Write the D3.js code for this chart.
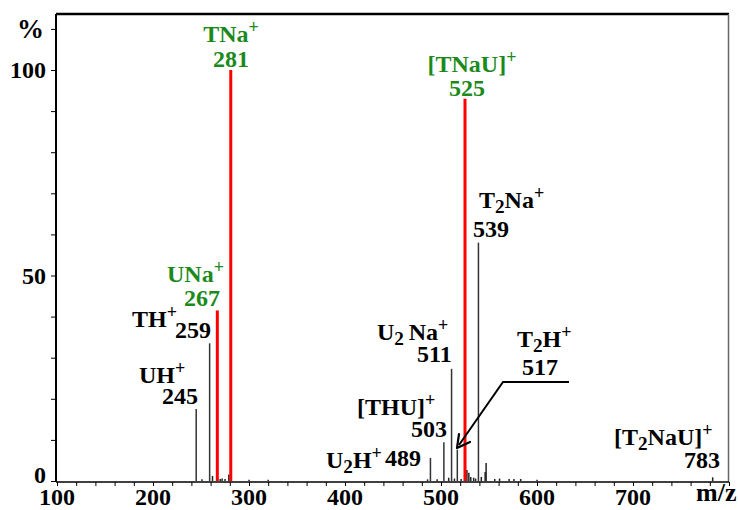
<!DOCTYPE html>
<html><head><meta charset="utf-8">
<script src="https://cdn.jsdelivr.net/npm/d3@7"></script>
<style>html,body{margin:0;padding:0;background:#fff;}svg{display:block;}</style>
</head><body>
<svg id="c" width="738" height="510"></svg>
<script>
// ---- data ----
const mainMz        = [245, 259, 267, 281, 489, 503, 511, 517, 525, 539];
const mainIntensity = [17.5, 33.5, 41.5, 100, 5.6, 9.4, 27.3, 7.6, 93, 58];
const highlighted   = [false, false, true, true, false, false, false, false, true, false];
const minorMz        = [251, 262, 270, 272, 275, 279, 300, 320, 486, 496, 508, 514, 521, 527, 529, 531, 534, 536, 542, 546, 547, 556, 561, 571, 576, 583, 600, 783];
const minorIntensity = [0.4, 1.2, 0.5, 0.6, 0.5, 1.6, 0.3, 0.3, 0.4, 0.4, 0.8, 0.6, 0.5, 2.7, 2.0, 1.0, 0.8, 0.6, 1.0, 2.2, 4.4, 0.5, 0.6, 0.5, 0.5, 0.5, 0.3, 0.9];
const yMajorTicks = [0, 50, 100];
const yMinorTicks = [10, 20, 30, 40, 60, 70, 80, 90];
const xTickLabels = [100, 200, 300, 400, 500, 600, 700];

const svg = d3.select("#c");
const x = d3.scaleLinear().domain([100, 800]).range([57, 729]);
const y = d3.scaleLinear().domain([0, 100]).range([481, 70]);
const serif = "'Liberation Serif','Times New Roman',serif";
const green = "#1b8a1b";
const FS = 24;

// frame
svg.append("line").attr("x1",56).attr("x2",729).attr("y1",14).attr("y2",14).attr("stroke","#000").attr("stroke-width",2.5);
svg.append("line").attr("x1",728.5).attr("x2",728.5).attr("y1",14).attr("y2",482).attr("stroke","#666").attr("stroke-width",1.5);

// minor peaks
svg.append("g").selectAll("line").data(minorMz).join("line")
  .attr("x1", d=>x(d)).attr("x2", d=>x(d))
  .attr("y1", y(0)).attr("y2", (d,i)=>y(minorIntensity[i]))
  .attr("stroke","#222").attr("stroke-width",1.5);

// main peaks
svg.append("g").selectAll("line").data(mainMz).join("line")
  .attr("x1", d=>x(d)).attr("x2", d=>x(d))
  .attr("y1", y(0)).attr("y2", (d,i)=>y(mainIntensity[i]))
  .attr("stroke", (d,i)=>highlighted[i] ? "#ff0000" : "#333")
  .attr("stroke-width", (d,i)=>highlighted[i] ? 3 : 1.5);

// axes
const xAxis = d3.axisBottom(x).tickValues(d3.range(100, 801, 20)).tickSize(4).tickFormat("");
const gx = svg.append("g").attr("transform","translate(0,482)").call(xAxis);
gx.select(".domain").attr("stroke","#000").attr("stroke-width",1.5).attr("d","M56,0H729");
gx.selectAll(".tick line").attr("stroke","#000").attr("stroke-width",1);
svg.append("g").selectAll("text").data(xTickLabels).join("text")
  .attr("x", d=>x(d)).attr("y", 505).attr("text-anchor","middle")
  .attr("font-family",serif).attr("font-weight","bold").attr("font-size",FS).text(d=>d);

const yAxis = d3.axisLeft(y).tickValues(yMajorTicks.concat(yMinorTicks).concat([110])).tickSize(5).tickFormat("");
const gy = svg.append("g").attr("transform","translate(56,0)").call(yAxis);
gy.select(".domain").attr("stroke","#000").attr("stroke-width",2).attr("d","M0,14V482");
gy.selectAll(".tick line").attr("stroke","#000").attr("stroke-width",1);
svg.append("g").selectAll("text").data(yMajorTicks).join("text")
  .attr("x", 46).attr("y", d=>d===0 ? y(d)-6 : y(d)).attr("dy","0.35em").attr("text-anchor","end")
  .attr("font-family",serif).attr("font-weight","bold").attr("font-size",FS).text(d=>d);
svg.append("text").attr("x",17).attr("y",38).attr("font-family",serif).attr("font-weight","bold").attr("font-size",27).text("%");
svg.append("text").attr("x",696).attr("y",501).attr("font-family",serif).attr("font-weight","bold").attr("font-size",26).text("m/z");

// labels
function label(xp, yp, parts, color, anchor) {
  const t = svg.append("text").attr("x",xp).attr("y",yp)
    .attr("font-family",serif).attr("font-weight","bold").attr("font-size",FS)
    .attr("fill",color||"#000").attr("text-anchor",anchor||"start");
  parts.forEach(p=>{
    const s = t.append("tspan").text(p[0]);
    if (p[1]==="sub") s.attr("font-size",FS*0.8).attr("dy",5);
    else if (p[1]==="sup") s.attr("font-size",FS*0.75).attr("dy",-9);
    else if (p[1]==="back") s.attr("dy",-5);
  });
  return t;
}
// green
label(231, 42, [["TNa"],["+","sup"]], green, "middle");
label(231, 67, [["281"]], green, "middle");
label(472, 72, [["[TNaU]"],["+","sup"]], green, "middle");
label(467, 96, [["525"]], green, "middle");
label(167, 282, [["UNa"],["+","sup"]], green);
label(184, 306, [["267"]], green);
// black
label(479, 208, [["T"],["2","sub"],["Na","back"],["+","sup"]]);
label(473, 237, [["539"]]);
label(132, 327, [["TH"],["+","sup"]]);
label(175, 338, [["259"]]);
label(139, 383, [["UH"],["+","sup"]]);
label(162, 404, [["245"]]);
label(377, 340, [["U"],["2","sub"],["\u2009Na","back"],["+","sup"]]);
label(417, 362, [["511"]]);
label(517, 347, [["T"],["2","sub"],["H","back"],["+","sup"]]);
label(522, 375, [["517"]]);
label(357, 415, [["[THU]"],["+","sup"]]);
label(411, 437, [["503"]]);
label(326, 468, [["U"],["2","sub"],["H","back"],["+","sup"]]);
label(385, 466, [["489"]]);
label(614, 445, [["[T"],["2","sub"],["NaU]","back"],["+","sup"]]);
label(684, 468, [["783"]]);

// leader line for 517
svg.append("path").attr("d","M569,382H503L459,445").attr("fill","none").attr("stroke","#000").attr("stroke-width",2);
svg.append("path").attr("d","M457,448 L459,434 M457,448 L470,442").attr("fill","none").attr("stroke","#000").attr("stroke-width",2.2).attr("stroke-linecap","round");
</script>
</body></html>
